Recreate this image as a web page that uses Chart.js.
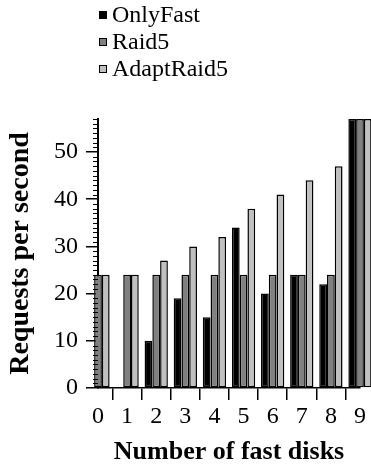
<!DOCTYPE html>
<html>
<head>
<meta charset="utf-8">
<script src="https://cdn.jsdelivr.net/npm/chart.js@4/dist/chart.umd.min.js"></script>
<style>
  html, body { margin: 0; padding: 0; background: #fff; }
  #wrap { position: relative; width: 371px; height: 470px; }
  #legend { position: absolute; left: 99px; top: 1px; font-family: 'Liberation Serif', 'Times New Roman', serif; font-size: 24px; color: #000; }
  .leg-item { height: 27px; line-height: 27px; display: flex; align-items: center; white-space: nowrap; }
  .leg-box { width: 6px; height: 6px; border: 1px solid #000; margin-right: 5px; }
</style>
</head>
<body>
<div id="wrap">
  <canvas id="chart" width="371" height="470"></canvas>
  <div id="legend"></div>
</div>
<script>
const SERIF = "'Liberation Serif', 'Times New Roman', serif";

const disks = ['0', '1', '2', '3', '4', '5', '6', '7', '8', '9'];
const onlyFast = [0, 0, 10, 19, 15, 34, 20, 24, 22, 57];
const raid5 = [24, 24, 24, 24, 24, 24, 24, 24, 24, 57];
const adaptRaid5 = [24, 24, 27, 30, 32, 38, 41, 44, 47, 57];

const seriesNames = ['OnlyFast', 'Raid5', 'AdaptRaid5'];
const seriesColors = ['#000000', '#808080', '#c0c0c0'];

// minor ticks on the y axis, one per unit
const minorTicks = {
  id: 'minorTicks',
  afterDraw(chart) {
    const y = chart.scales.y;
    const ctx = chart.ctx;
    const left = chart.chartArea.left;
    ctx.save();
    ctx.strokeStyle = '#000';
    ctx.lineWidth = 1;
    for (let v = y.min; v <= y.max; v++) {
      if (v % 10 === 0) continue;
      const py = Math.round(y.getPixelForValue(v)) + 0.5;
      ctx.beginPath();
      ctx.moveTo(left - 5, py);
      ctx.lineTo(left, py);
      ctx.stroke();
    }
    ctx.restore();
  }
};

function bars(label, data, color) {
  return {
    label,
    data,
    backgroundColor: color,
    borderColor: '#000',
    borderWidth: 1.5,
    borderSkipped: false,
    clip: false,
    categoryPercentage: 0.8,
    barPercentage: 1.0
  };
}

const chart = new Chart(document.getElementById('chart'), {
  type: 'bar',
  data: {
    labels: disks,
    datasets: [
      bars(seriesNames[0], onlyFast, seriesColors[0]),
      bars(seriesNames[1], raid5, seriesColors[1]),
      bars(seriesNames[2], adaptRaid5, seriesColors[2])
    ]
  },
  options: {
    responsive: false,
    animation: false,
    layout: { padding: { top: 119, right: 11, left: 0, bottom: 0 } },
    plugins: {
      legend: { display: false },
      tooltip: { enabled: false }
    },
    scales: {
      x: {
        offset: false,
        afterFit: (scale) => { scale.height = 82; },
        grid: { drawOnChartArea: false, tickLength: 12, color: '#000', lineWidth: 1.5 },
        border: { color: '#000', width: 1.5 },
        ticks: { color: '#000', font: { family: SERIF, size: 24 }, padding: 2, autoSkip: false, maxRotation: 0 },
        title: {
          display: true,
          text: 'Number of fast disks',
          color: '#000',
          font: { family: SERIF, size: 26, weight: 'bold' },
          padding: { top: 0, bottom: 2 }
        }
      },
      y: {
        min: 0,
        max: 57,
        afterFit: (scale) => { scale.width = 98; },
        grid: { drawOnChartArea: false, tickLength: 12, color: '#000', lineWidth: 1.5 },
        border: { color: '#000', width: 2 },
        ticks: { stepSize: 10, includeBounds: false, color: '#000', font: { family: SERIF, size: 24 }, padding: 8 },
        title: {
          display: true,
          text: 'Requests per second',
          color: '#000',
          font: { family: SERIF, size: 28, weight: 'bold' },
          padding: { top: 4, bottom: 0 }
        }
      }
    }
  },
  plugins: [minorTicks]
});

// legend stacked vertically, as in the figure
const legendEl = document.getElementById('legend');
chart.data.datasets.forEach((ds) => {
  const item = document.createElement('div');
  item.className = 'leg-item';
  const box = document.createElement('span');
  box.className = 'leg-box';
  box.style.background = ds.backgroundColor;
  const text = document.createElement('span');
  text.textContent = ds.label;
  item.appendChild(box);
  item.appendChild(text);
  legendEl.appendChild(item);
});
</script>
</body>
</html>
